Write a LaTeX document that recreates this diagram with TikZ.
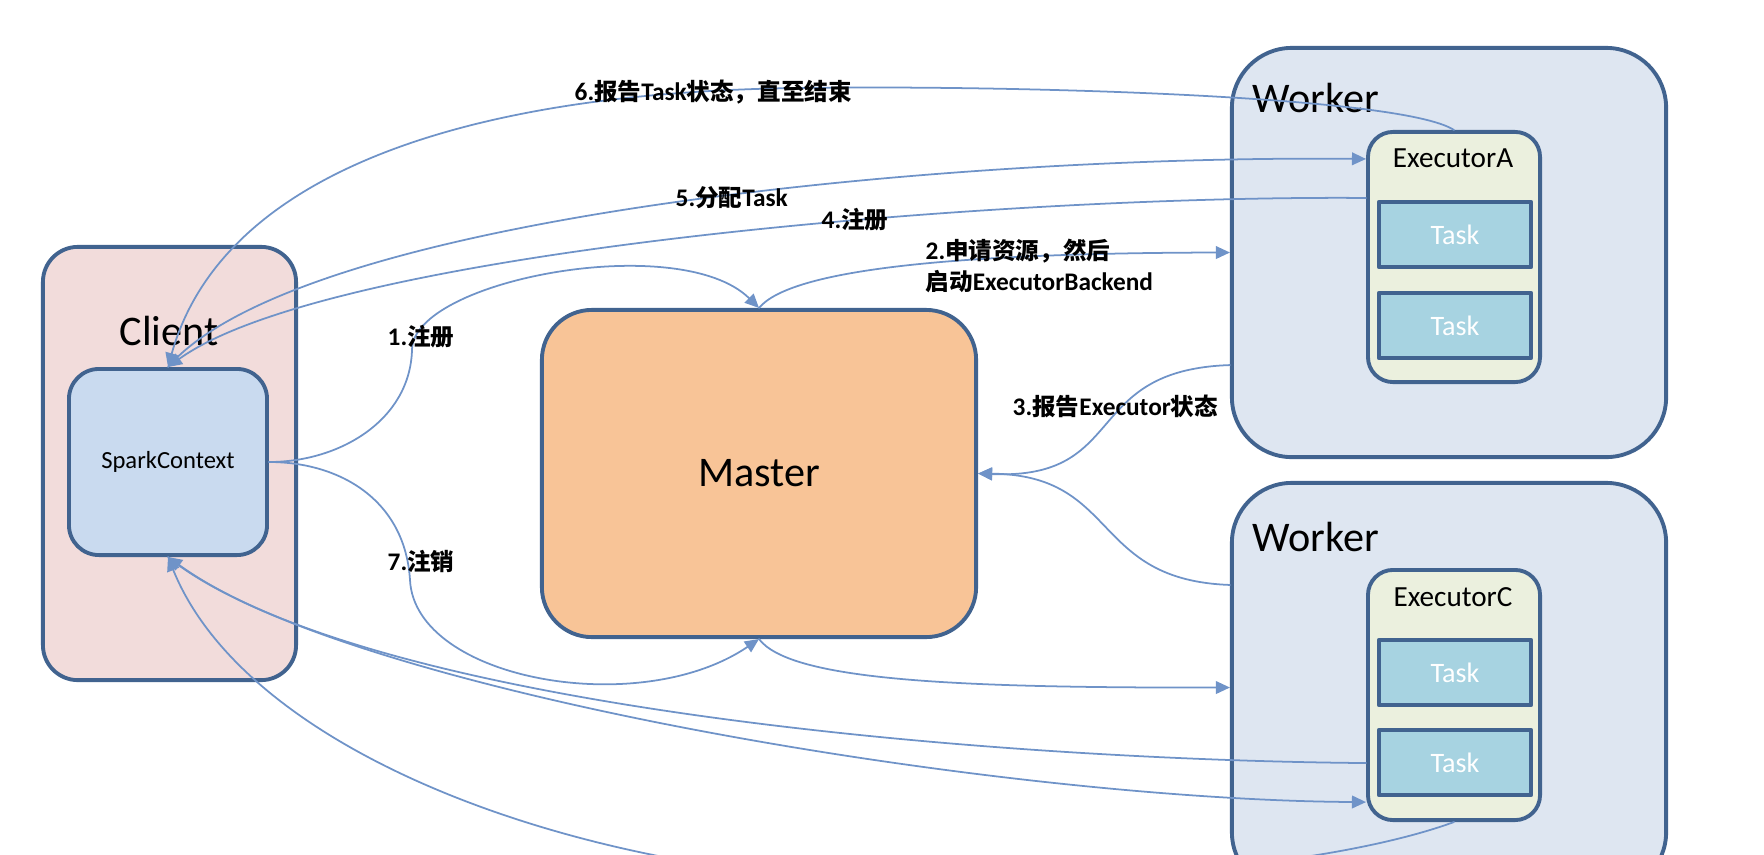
\documentclass[tikz,border=0pt]{standalone}
\usepackage{fontspec}
\setmainfont{Carlito}
\newfontfamily\cjk{Noto Sans CJK SC}
\newcommand{\zh}[1]{{\cjk\bfseries\fontsize{6.7}{8.8}\selectfont #1}}
\usepackage{tikz}
\usetikzlibrary{arrows,arrows.meta}
\definecolor{clientfill}{HTML}{F2DCDB}
\definecolor{scfill}{HTML}{C9DAEF}
\definecolor{masterfill}{HTML}{F8C497}
\definecolor{workerfill}{HTML}{DEE6F1}
\definecolor{execfill}{HTML}{EBF0DE}
\definecolor{taskfill}{HTML}{A7D3E1}
\definecolor{boxline}{HTML}{41638F}
\definecolor{arrowblue}{HTML}{6F93C8}
\tikzset{
  box/.style={draw=boxline, line width=1.1pt, inner sep=0pt},
  bigtext/.style={inner sep=0pt, font=\fontsize{12}{14}\selectfont},
  exectext/.style={inner sep=0pt, font=\fontsize{8.3}{10}\selectfont},
  taskbox/.style={box, fill=taskfill, line width=1.3pt, minimum width=1.52cm, minimum height=0.65cm, text=white, font=\fontsize{8}{9}\selectfont},
  steplbl/.style={anchor=west, inner sep=0pt, align=left, font=\bfseries\fontsize{7.2}{8.8}\selectfont},
  flowline/.style={draw=arrowblue, line width=0.5pt, ->}
}
\begin{document}
\begin{tikzpicture}[line cap=round,line join=round,>={Triangle[length=4pt,width=3.6pt]},x=0.01cm,y=-0.01cm]
\useasboundingbox (0,0) rectangle (1764,854);
\clip (0,0) rectangle (1764,854);
% client side
\node[box, fill=clientfill, rounded corners=0.35cm, minimum width=2.53cm, minimum height=4.33cm] (client) at (169.5,463.5) {};
\node[bigtext] (clientlbl) at (169,331) {Client};
\node[box, fill=scfill, rounded corners=0.3cm, minimum width=1.98cm, minimum height=1.86cm, font=\fontsize{7}{8}\selectfont] (sc) at (168,462) {SparkContext};
% master
\node[box, fill=masterfill, rounded corners=0.5cm, minimum width=4.34cm, minimum height=3.27cm, font=\fontsize{12}{14}\selectfont] (master) at (759,473.5) {Master};
% workers
\node[box, fill=workerfill, rounded corners=0.6cm, minimum width=4.34cm, minimum height=4.09cm] (wa) at (1449,252.5) {};
\node[bigtext, anchor=west] (walbl) at (1252,98) {Worker};
\node[box, fill=execfill, rounded corners=0.25cm, minimum width=1.72cm, minimum height=2.5cm] (ea) at (1454,257) {};
\node[exectext] (ealbl) at (1453,158) {ExecutorA};
\node[taskbox] (ta1) at (1455,234.5) {Task};
\node[taskbox] (ta2) at (1455,325.5) {Task};
\node[box, fill=workerfill, rounded corners=0.6cm, minimum width=4.34cm, minimum height=4.09cm] (wc) at (1449,687.5) {};
\node[bigtext, anchor=west] (wclbl) at (1252,537) {Worker};
\node[box, fill=execfill, rounded corners=0.25cm, minimum width=1.72cm, minimum height=2.5cm] (ec) at (1454,695) {};
\node[exectext] (eclbl) at (1453,597) {ExecutorC};
\node[taskbox] (tc1) at (1455,672.5) {Task};
\node[taskbox] (tc2) at (1455,762.5) {Task};
% messages
\draw[flowline] (sc.east) .. controls (340,462) and (410,420) .. (412,350) .. controls (412,280) and (680,230) .. (master.north);
\draw[flowline] (master.north) .. controls (790,270) and (950,253) .. (wa.west);
\draw[flowline] ([yshift=-1.125cm]wa.west) .. controls (1080,370) and (1130,480) .. (master.east);
\draw[flowline] ([yshift=1.025cm]wc.west) .. controls (1090,580) and (1120,475) .. (master.east);
\draw[flowline] (master.south) .. controls (790,680) and (950,688) .. (wc.west);
\draw[flowline] ([yshift=0.59cm]ea.west) .. controls (1000,195) and (330,250) .. (sc.north);
\draw[flowline] (sc.north) .. controls (300,215) and (950,155) .. ([yshift=0.98cm]ea.west);
\draw[flowline] (ea.north) .. controls (1400,95) and (1000,85) .. (800,88) .. controls (450,92) and (220,180) .. (sc.north);
\draw[flowline] (sc.east) .. controls (340,462) and (405,500) .. (410,580) .. controls (415,680) and (640,720) .. (master.south);
\draw[flowline] ([yshift=-0.68cm]ec.west) .. controls (1000,760) and (380,710) .. (sc.south);
\draw[flowline] (sc.south) .. controls (330,690) and (1000,800) .. ([yshift=-1.07cm]ec.west);
\draw[flowline] (ec.south) .. controls (1350,860) and (1150,882) .. (920,882) .. controls (600,882) and (250,760) .. (sc.south);
% labels
\node[steplbl] (s1) at (387,337) {1.\zh{注册}};
\node[steplbl] (s2) at (925,265.5) {2.\zh{申请资源，然后}\\\zh{启动}ExecutorBackend};
\node[steplbl] (s3) at (1012,406) {3.\zh{报告}Executor\zh{状态}};
\node[steplbl] (s4) at (821,220) {4.\zh{注册}};
\node[steplbl] (s5) at (675,198) {5.\zh{分配}Task};
\node[steplbl] (s6) at (574,92) {6.\zh{报告}Task\zh{状态，直至结束}};
\node[steplbl] (s7) at (387,561) {7.\zh{注销}};
\end{tikzpicture}
\end{document}
